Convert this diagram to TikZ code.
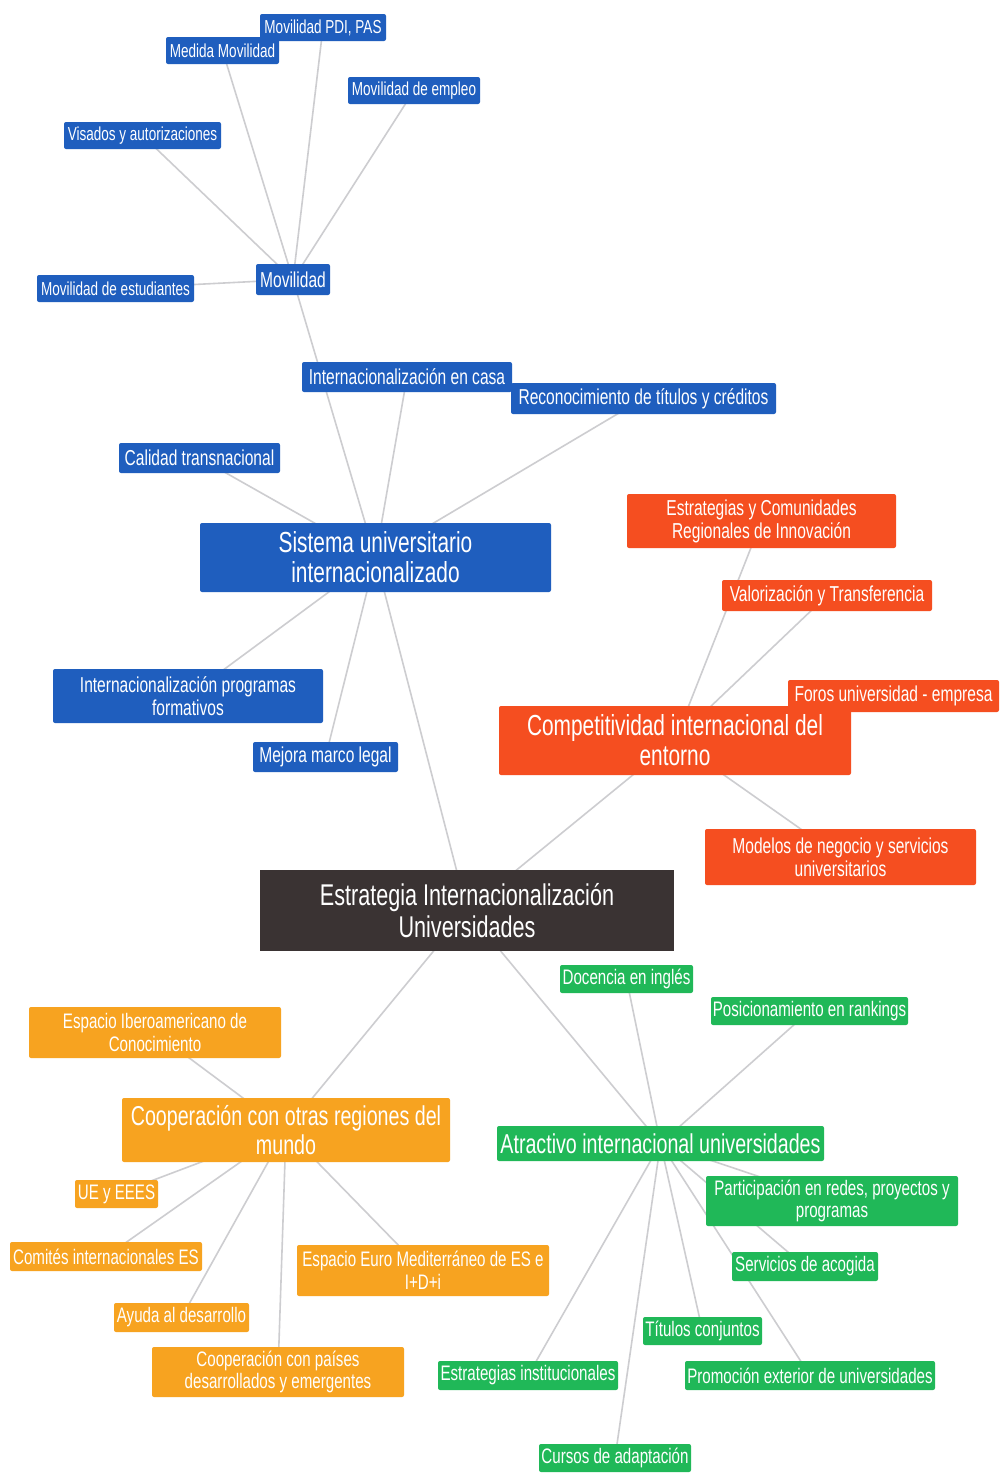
\documentclass[tikz,border=0pt]{standalone}
\usepackage{fontspec}
\setmainfont[FakeStretch=0.72]{Liberation Sans}
\usetikzlibrary{backgrounds}
\definecolor{cblue}{RGB}{31,94,190}
\definecolor{cred}{RGB}{245,78,32}
\definecolor{corange}{RGB}{247,163,32}
\definecolor{cgreen}{RGB}{32,184,88}
\definecolor{cdark}{RGB}{58,51,51}
\definecolor{cline}{RGB}{205,205,208}
\begin{document}
\begin{tikzpicture}[x=1pt,y=-1pt,
  box/.style={rounded corners=2pt, text=white, inner sep=0pt, align=center},
  bl/.style={box, fill=cblue},
  rd/.style={box, fill=cred},
  og/.style={box, fill=corange},
  gr/.style={box, fill=cgreen},
  dk/.style={box, fill=cdark, rounded corners=0pt},
  sz/.style 2 args={minimum width=#1, minimum height=#2},
  fxs/.style={font=\fontsize{18.8}{21}\selectfont},
  fsm/.style={font=\fontsize{21.6}{23}\selectfont},
  fso/.style={font=\fontsize{21}{22.5}\selectfont},
  fbg/.style={font=\fontsize{29}{30}\selectfont},
  fbo/.style={font=\fontsize{27.3}{29}\selectfont},
  fct/.style={font=\fontsize{30}{31.5}\selectfont},
  link/.style={draw=cline, line width=1.6pt}
]
\useasboundingbox (0,0) rectangle (999,1473);

% ---- blue branch ----
\node[bl, fxs, sz={126}{27}] (pdi) at (323,27.5) {Movilidad PDI, PAS};
\node[bl, fxs, sz={113}{27}] (medida) at (222.5,50.5) {Medida Movilidad};
\node[bl, fxs, sz={132}{27}] (empleo) at (414,90.5) {Movilidad de empleo};
\node[bl, fxs, sz={157}{27}] (visados) at (142.5,135.5) {Visados y autorizaciones};
\node[bl, fxs, sz={157}{27}] (estud) at (115.5,288.5) {Movilidad de estudiantes};
\node[bl, fsm, sz={74}{31}] (mov) at (293,279.5) {Movilidad};
\node[bl, fsm, sz={210}{30}] (casa) at (407,377) {Internacionalización en casa};
\node[bl, fsm, sz={265}{31}] (recon) at (643.5,398.5) {Reconocimiento de títulos y créditos};
\node[bl, fsm, sz={161}{30}] (calidad) at (199.5,458) {Calidad transnacional};
\node[bl, fbg, sz={351}{69}] (sistema) at (375.5,557.5) {Sistema universitario\\internacionalizado};
\node[bl, fsm, sz={270}{54}] (progr) at (188,696) {Internacionalización programas\\formativos};
\node[bl, fsm, sz={145}{30}] (mejora) at (325.5,757) {Mejora marco legal};

% ---- red branch ----
\node[rd, fsm, sz={269}{54}] (ecri) at (761.5,521) {Estrategias y Comunidades\\Regionales de Innovación};
\node[rd, fsm, sz={210}{31}] (valor) at (827,595.5) {Valorización y Transferencia};
\node[rd, fbg, sz={352}{69}] (compet) at (675,740.5) {Competitividad internacional del\\entorno};
\node[rd, fsm, sz={211}{32}] (foros) at (893.5,696) {Foros universidad - empresa};
\node[rd, fsm, sz={271}{56}] (modelos) at (840.5,857) {Modelos de negocio y servicios\\universitarios};

% ---- centre ----
\node[dk, fct, sz={414}{81}] (centre) at (467,910.5) {Estrategia Internacionalización\\Universidades};

% ---- orange branch ----
\node[og, fso, sz={252}{51}] (ibero) at (155,1032.5) {Espacio Iberoamericano de\\Conocimiento};
\node[og, fbo, sz={328}{64}] (coop) at (286,1130) {Cooperación con otras regiones del\\mundo};
\node[og, fso, sz={83}{28}] (ue) at (116.5,1194) {UE y EEES};
\node[og, fso, sz={192}{29}] (comites) at (106,1256.5) {Comités internacionales ES};
\node[og, fso, sz={252}{51}] (euromed) at (423,1270.5) {Espacio Euro Mediterráneo de ES e\\I+D+i};
\node[og, fso, sz={135}{29}] (ayuda) at (181.5,1317.5) {Ayuda al desarrollo};
\node[og, fso, sz={252}{50}] (paises) at (278,1372) {Cooperación con países\\desarrollados y emergentes};

% ---- green branch ----
\node[gr, fso, sz={133}{28}] (docencia) at (626.5,979) {Docencia en inglés};
\node[gr, fso, sz={197}{28}] (posic) at (809.5,1011) {Posicionamiento en rankings};
\node[gr, fbo, sz={327}{35}] (atract) at (660.5,1143.5) {Atractivo internacional universidades};
\node[gr, fso, sz={252}{50}] (partic) at (832,1201) {Participación en redes, proyectos y\\programas};
\node[gr, fso, sz={146}{29}] (servicios) at (805,1266.5) {Servicios de acogida};
\node[gr, fso, sz={119}{28}] (titulos) at (702.5,1331) {Títulos conjuntos};
\node[gr, fso, sz={250}{29}] (promo) at (810,1375.5) {Promoción exterior de universidades};
\node[gr, fso, sz={180}{29}] (estrinst) at (528,1375.5) {Estrategias institucionales};
\node[gr, fso, sz={152}{28}] (cursos) at (615,1458) {Cursos de adaptación};

\begin{pgfonlayer}{background}
  \fill[white] (0,0) rectangle (999,1473);
  \foreach \c in {pdi,medida,empleo,visados,estud,sistema}
    \draw[link] (mov.center) -- (\c.center);
  \foreach \c in {casa,recon,calidad,progr,mejora,centre}
    \draw[link] (sistema.center) -- (\c.center);
  \foreach \c in {ecri,valor,foros,modelos,centre}
    \draw[link] (compet.center) -- (\c.center);
  \foreach \c in {centre,ibero,ue,comites,euromed,ayuda,paises}
    \draw[link] (coop.center) -- (\c.center);
  \foreach \c in {centre,docencia,posic,partic,servicios,titulos,promo,estrinst,cursos}
    \draw[link] (atract.center) -- (\c.center);
\end{pgfonlayer}
\end{tikzpicture}
\end{document}
